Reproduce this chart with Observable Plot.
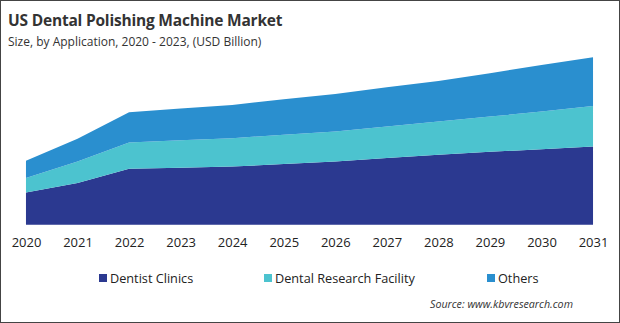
<!DOCTYPE html>
<html><head><meta charset="utf-8">
<script src="https://cdn.jsdelivr.net/npm/d3@7"></script>
<script src="https://cdn.jsdelivr.net/npm/@observablehq/plot@0.6"></script>
<style>
html,body{margin:0;padding:0;background:#fff;}
#wrap{position:relative;width:620px;height:323px;box-sizing:border-box;border:1px solid #444;overflow:hidden;font-family:"Open Sans","Liberation Sans",sans-serif;color:#222;}
#title{position:absolute;left:7px;top:8px;font-size:15.5px;font-weight:700;color:#333;letter-spacing:-0.2px;}
#sub{position:absolute;left:7px;top:32px;font-size:12px;color:#333;}
#chart{position:absolute;left:-1px;top:44px;}
.lg{position:absolute;top:268px;font-size:12.7px;color:#222;white-space:nowrap;}
.sw{position:absolute;width:8px;height:8px;top:273px;}
#src{position:absolute;left:429px;top:296px;font-size:10.7px;font-style:italic;color:#333;}
</style></head>
<body><div id="wrap">
<div id="title">US Dental Polishing Machine Market</div>
<div id="sub">Size, by Application, 2020 - 2023, (USD Billion)</div>
<div id="chart"></div>
<div id="src">Source: www.kbvresearch.com</div>
</div>
<script>
const years = [2020,2021,2022,2023,2024,2025,2026,2027,2028,2029,2030,2031];
const series = ["Dentist Clinics","Dental Research Facility","Others"];
const colors = ["#2b3990","#4cc3cf","#2a8fcf"];
const dentistClinics = [0.323,0.417,0.560,0.570,0.583,0.607,0.633,0.667,0.700,0.730,0.755,0.783];
const dentalResearch = [0.144,0.216,0.263,0.275,0.284,0.293,0.300,0.316,0.333,0.353,0.378,0.407];
const others = [0.173,0.227,0.304,0.320,0.333,0.357,0.377,0.394,0.407,0.434,0.467,0.487];
const legendX = [98,263,486];

const values = [dentistClinics, dentalResearch, others];
const data = [];
series.forEach((s,i)=>years.forEach((y,j)=>data.push({year:y, series:s, value:values[i][j]})));

const chart = Plot.plot({
  width: 620, height: 215,
  marginLeft: 26, marginRight: 26, marginTop: 0, marginBottom: 35,
  style:{fontFamily:'"Open Sans","Liberation Sans",sans-serif', fontSize:"13px", color:"#222", background:"transparent"},
  x:{domain:[2020,2031], ticks: years, tickFormat: d=>String(d), tickSize:0, tickPadding:13, label:null},
  y:{domain:[0,1.8], axis:null},
  color:{domain: series, range: colors},
  marks:[
    Plot.areaY(data, {x:"year", y:"value", z:"series", fill:"series", order: series, fillOpacity:1})
  ]
});
document.getElementById("chart").appendChild(chart);

const wrap = document.getElementById("wrap");
series.forEach((s,i)=>{
  const sw=document.createElement("div"); sw.className="sw"; sw.style.left=legendX[i]+"px"; sw.style.background=colors[i]; wrap.appendChild(sw);
  const t=document.createElement("div"); t.className="lg"; t.style.left=(legendX[i]+11)+"px"; t.textContent=s; wrap.appendChild(t);
});
</script>
</body></html>
